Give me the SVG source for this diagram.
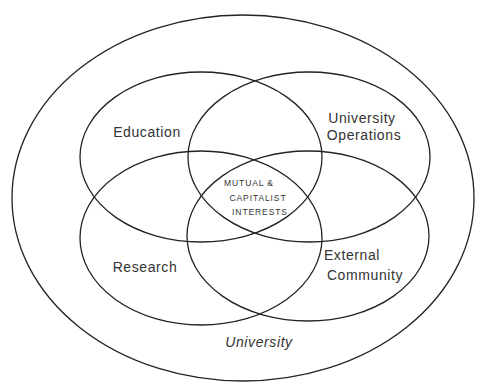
<svg xmlns="http://www.w3.org/2000/svg" width="480" height="383" viewBox="0 0 480 383">
<style>
.e{fill:none;stroke:#222;stroke-width:1.3}
.t{font-family:"Liberation Sans",Arial,sans-serif;font-size:14px;fill:#333;letter-spacing:0.6px;text-anchor:middle}
.s{font-family:"Liberation Sans",Arial,sans-serif;font-size:8.5px;fill:#333;letter-spacing:0.9px;text-anchor:middle}
</style>
<rect width="480" height="383" fill="#fff"/>
<g id="connectors"></g>
<g id="university">
<ellipse class="e" cx="243" cy="198" rx="231" ry="183"/>
<text class="t" x="259" y="347" font-style="italic">University</text>
</g>
<g id="education">
<ellipse class="e" cx="201" cy="157" rx="121" ry="85"/>
<text class="t" x="147" y="137">Education</text>
</g>
<g id="operations">
<ellipse class="e" cx="309" cy="157" rx="121" ry="85"/>
<text class="t" x="362" y="123">University</text>
<text class="t" x="364" y="140">Operations</text>
</g>
<g id="research">
<ellipse class="e" cx="201" cy="238" rx="121" ry="87"/>
<text class="t" x="145" y="272">Research</text>
</g>
<g id="external">
<ellipse class="e" cx="308" cy="236" rx="121" ry="85"/>
<text class="t" x="352" y="260">External</text>
<text class="t" x="365" y="280">Community</text>
</g>
<g id="mutual">
<text class="s" x="249" y="186">MUTUAL &amp;</text>
<text class="s" x="258" y="201">CAPITALIST</text>
<text class="s" x="260" y="215">INTERESTS</text>
</g>
</svg>
